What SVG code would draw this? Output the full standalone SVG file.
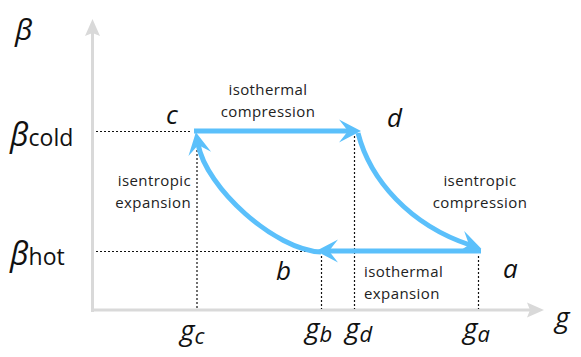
<svg xmlns="http://www.w3.org/2000/svg" width="581" height="357" viewBox="0 0 581 357">
<style>
.lbl{font-family:"Open Sans",Lato,sans-serif;font-size:15px;fill:#222;letter-spacing:0.4px}
.pt{font-family:"Open Sans",Lato,sans-serif;font-style:italic;font-size:26px;fill:#111}
.ax{font-family:"Open Sans",Lato,sans-serif;fill:#111}
.dot{stroke:#111;stroke-width:1.2;stroke-dasharray:2 2;fill:none}
.flow{stroke:#5bc0fb;stroke-width:5;fill:none;marker-end:url(#ah)}
</style>
<defs>
<marker id="ah" markerUnits="userSpaceOnUse" markerWidth="30" markerHeight="30" viewBox="0 0 30 30" refX="12" refY="15" orient="auto">
<path d="M24,15 L2,3.5 L11,15 L2,26.5 Z" fill="#5bc0fb"/>
</marker>
</defs>
<g id="axes">
<line x1="92.5" y1="312" x2="92.5" y2="32" stroke="#d9d9d9" stroke-width="3"/>
<path d="M92.5,19 L100,36 L92.5,33 L85,36 Z" fill="#d9d9d9"/>
<line x1="91" y1="310" x2="532" y2="310" stroke="#d9d9d9" stroke-width="3"/>
<path d="M544,310 L527,317.5 L530,310 L527,302.5 Z" fill="#d9d9d9"/>
</g>
<g id="guides">
<line class="dot" x1="96" y1="131.5" x2="192" y2="131.5"/>
<line class="dot" x1="96" y1="251.5" x2="318" y2="251.5"/>
<line class="dot" x1="197" y1="150" x2="197" y2="309"/>
<line class="dot" x1="321.5" y1="256" x2="321.5" y2="309"/>
<line class="dot" x1="354.5" y1="136" x2="354.5" y2="309"/>
<line class="dot" x1="478.5" y1="256" x2="478.5" y2="309"/>
</g>
<g id="connectors">
<path id="c-d" class="flow" d="M194,131 H349"/>
<path id="d-a" class="flow" d="M358,133 C370,180 410,225 470,245"/>
<path id="a-b" class="flow" d="M481,251 H328"/>
<path id="b-c" class="flow" d="M321,252 C275,250 206,188 198,144"/>
</g>
<g id="node-c"><text class="pt" x="166" y="124">c</text></g>
<g id="node-d"><text class="pt" x="387" y="127">d</text></g>
<g id="node-a"><text class="pt" x="503" y="278">a</text></g>
<g id="node-b"><text class="pt" x="276" y="280">b</text></g>
<g id="label-iso-comp">
<text class="lbl" x="268" y="95" text-anchor="middle">isothermal</text>
<text class="lbl" x="268" y="117" text-anchor="middle">compression</text>
</g>
<g id="label-isen-comp">
<text class="lbl" x="480" y="186" text-anchor="middle">isentropic</text>
<text class="lbl" x="480" y="208" text-anchor="middle">compression</text>
</g>
<g id="label-isen-exp">
<text class="lbl" x="191" y="186" text-anchor="end">isentropic</text>
<text class="lbl" x="191" y="208" text-anchor="end">expansion</text>
</g>
<g id="label-iso-exp">
<text class="lbl" x="364" y="277">isothermal</text>
<text class="lbl" x="364" y="299">expansion</text>
</g>
<g id="axis-labels">
<text class="ax" x="15" y="40" font-size="30" font-style="italic">β</text>
<text class="ax" x="10" y="146" font-size="32" font-style="italic">β<tspan font-size="23" font-style="normal">cold</tspan></text>
<text class="ax" x="10" y="265" font-size="32" font-style="italic">β<tspan font-size="23" font-style="normal">hot</tspan></text>
<text class="ax" x="555" y="327" font-size="28" font-style="italic">g</text>
<text class="ax" x="180" y="340" font-size="28" font-style="italic">g<tspan font-size="22" dy="4">c</tspan></text>
<text class="ax" x="305" y="338" font-size="28" font-style="italic">g<tspan font-size="22" dy="4">b</tspan></text>
<text class="ax" x="345" y="338" font-size="28" font-style="italic">g<tspan font-size="22" dy="4">d</tspan></text>
<text class="ax" x="463" y="338" font-size="28" font-style="italic">g<tspan font-size="22" dy="4">a</tspan></text>
</g>
</svg>
